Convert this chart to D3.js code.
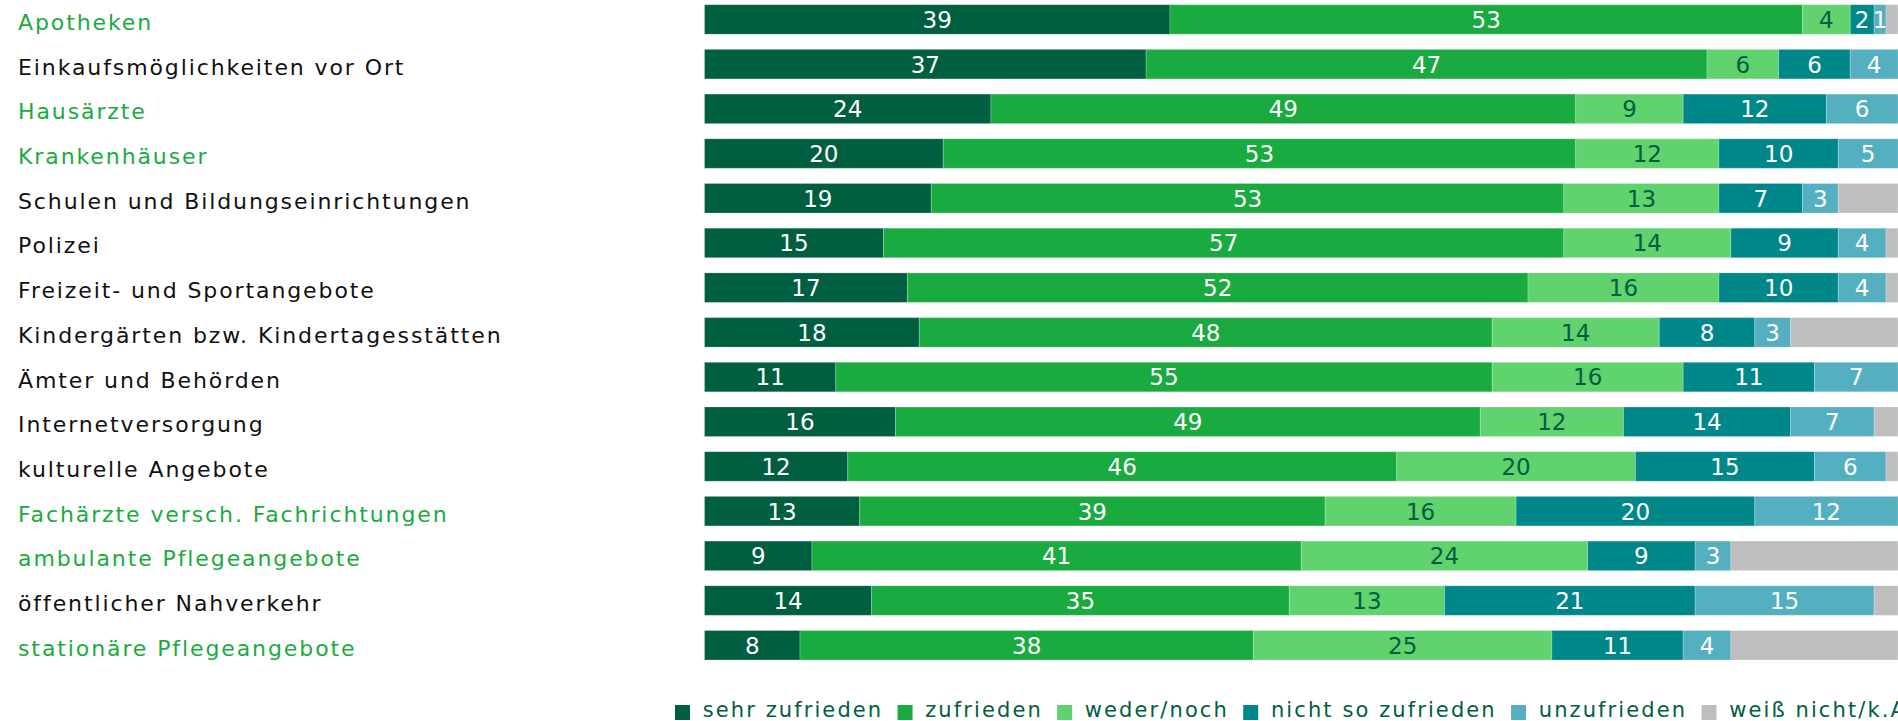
<!DOCTYPE html>
<html>
<head>
<meta charset="utf-8">
<script src="https://cdn.jsdelivr.net/npm/d3@7/dist/d3.min.js"></script>
<style>
  html, body { margin: 0; padding: 0; background: #fff; overflow: hidden; }
  svg { display: block; font-family: "DejaVu Sans", sans-serif; }
</style>
</head>
<body>
<svg id="chart" width="1898" height="721"></svg>
<script>
const categories = [
  "Apotheken",
  "Einkaufsmöglichkeiten vor Ort",
  "Hausärzte",
  "Krankenhäuser",
  "Schulen und Bildungseinrichtungen",
  "Polizei",
  "Freizeit- und Sportangebote",
  "Kindergärten bzw. Kindertagesstätten",
  "Ämter und Behörden",
  "Internetversorgung",
  "kulturelle Angebote",
  "Fachärzte versch. Fachrichtungen",
  "ambulante Pflegeangebote",
  "öffentlicher Nahverkehr",
  "stationäre Pflegeangebote"
];
const highlighted = [true, false, true, true, false, false, false, false, false, false, false, true, true, false, true];

const seriesNames = ["sehr zufrieden", "zufrieden", "weder/noch", "nicht so zufrieden", "unzufrieden", "weiß nicht/k.A."];
const sehrZufrieden = [39, 37, 24, 20, 19, 15, 17, 18, 11, 16, 12, 13, 9, 14, 8];
const zufrieden     = [53, 47, 49, 53, 53, 57, 52, 48, 55, 49, 46, 39, 41, 35, 38];
const wederNoch     = [4, 6, 9, 12, 13, 14, 16, 14, 16, 12, 20, 16, 24, 13, 25];
const nichtSo       = [2, 6, 12, 10, 7, 9, 10, 8, 11, 14, 15, 20, 9, 21, 11];
const unzufrieden   = [1, 4, 6, 5, 3, 4, 4, 3, 7, 7, 6, 12, 3, 15, 4];
const weissNicht    = [1, 0, 0, 0, 5, 1, 1, 9, 0, 2, 1, 0, 14, 2, 14];

const seriesColors = ["#005e41", "#1aab40", "#60d26e", "#00878a", "#54b0c0", "#bebebe"];
const labelColors  = ["#ffffff", "#ffffff", "#005e41", "#ffffff", "#ffffff", null];

const seriesValues = [sehrZufrieden, zufrieden, wederNoch, nichtSo, unzufrieden, weissNicht];
const rows = categories.map((c, i) => {
  const r = { category: c, highlight: highlighted[i] };
  seriesNames.forEach((s, k) => r[s] = seriesValues[k][i]);
  return r;
});

const svg = d3.select("#chart");

const x = d3.scaleLinear().domain([0, 100]).range([704.5, 1898]);
const y = d3.scaleBand().domain(categories).range([4.7, 660]).paddingInner(0.34).paddingOuter(0);
const color = d3.scaleOrdinal().domain(seriesNames).range(seriesColors);

const stacked = d3.stack().keys(seriesNames)(rows);

// category labels
svg.append("g").selectAll("text").data(rows).join("text")
  .attr("x", 18)
  .attr("y", d => y(d.category) + y.bandwidth() / 2 + 10.5)
  .attr("font-size", 22)
  .attr("letter-spacing", 1.9)
  .attr("fill", d => d.highlight ? "#1aab40" : "#111111")
  .text(d => d.category);

// bars
const layers = svg.append("g").selectAll("g").data(stacked).join("g")
  .attr("fill", d => color(d.key));

layers.selectAll("rect").data(d => d.map(p => ({ p, key: d.key }))).join("rect")
  .attr("x", d => x(d.p[0]))
  .attr("y", d => y(d.p.data.category))
  .attr("width", d => Math.max(0, x(d.p[1]) - x(d.p[0])))
  .attr("height", y.bandwidth())
  .attr("stroke", "#ffffff")
  .attr("stroke-opacity", 0.22)
  .attr("stroke-width", 1);

// value labels
stacked.forEach((layer, k) => {
  if (!labelColors[k]) return;
  svg.append("g").selectAll("text").data(layer.filter(p => p[1] - p[0] > 0)).join("text")
    .attr("x", p => (x(p[0]) + x(p[1])) / 2)
    .attr("y", p => y(p.data.category) + y.bandwidth() / 2 + 8.4)
    .attr("text-anchor", "middle")
    .attr("font-size", 23)
    .attr("fill", labelColors[k])
    .text(p => p[1] - p[0]);
});

// legend
const legend = svg.append("g");
let lx = 675;
seriesNames.forEach((s, k) => {
  legend.append("rect")
    .attr("x", lx).attr("y", 705)
    .attr("width", 15).attr("height", 15)
    .attr("fill", seriesColors[k]);
  const t = legend.append("text")
    .attr("x", lx + 15 + 12.7)
    .attr("y", 717)
    .attr("font-size", 21)
    .attr("letter-spacing", 2.1)
    .attr("fill", "#005e41")
    .text(s);
  const w = t.node().getComputedTextLength();
  lx = lx + 15 + 12.7 + w + 14.3;
});
</script>
</body>
</html>
